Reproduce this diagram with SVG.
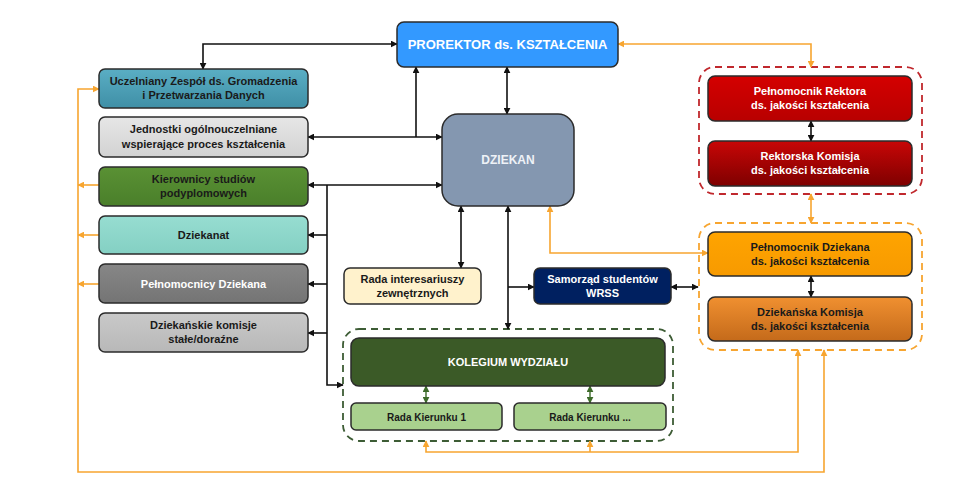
<svg xmlns="http://www.w3.org/2000/svg" width="960" height="481" viewBox="0 0 960 481">
<style>
.box{stroke:#2b2b2b;stroke-width:1.5}
.t{font-family:"Liberation Sans",Arial,sans-serif;font-weight:bold;font-size:11px;text-anchor:middle;fill:#1a1a1a}
.w{fill:#ffffff}
.blk{fill:none;stroke:#111;stroke-width:1.6;marker-start:url(#ab);marker-end:url(#ab)}
.blk1{fill:none;stroke:#111;stroke-width:1.6;marker-end:url(#ab)}
.org{fill:none;stroke:#f7a530;stroke-width:1.6;marker-start:url(#ao);marker-end:url(#ao)}
.org1{fill:none;stroke:#f7a530;stroke-width:1.6;marker-end:url(#ao)}
.org0{fill:none;stroke:#f7a530;stroke-width:1.6}
.grn{fill:none;stroke:#3d6b2a;stroke-width:1.4;marker-start:url(#ag);marker-end:url(#ag)}
.dash{fill:none;stroke-width:1.8;stroke-dasharray:7 5}
</style>
<defs>
<marker id="ab" viewBox="0 0 10 10" refX="9" refY="5" markerWidth="7" markerHeight="7" markerUnits="userSpaceOnUse" orient="auto-start-reverse"><path d="M0,0 L10,5 L0,10 z" fill="#111"/></marker>
<marker id="ao" viewBox="0 0 10 10" refX="9" refY="5" markerWidth="7" markerHeight="7" markerUnits="userSpaceOnUse" orient="auto-start-reverse"><path d="M0,0 L10,5 L0,10 z" fill="#f7a530"/></marker>
<marker id="ag" viewBox="0 0 10 10" refX="9" refY="5" markerWidth="7" markerHeight="7" markerUnits="userSpaceOnUse" orient="auto-start-reverse"><path d="M0,0 L10,5 L0,10 z" fill="#3d6b2a"/></marker>
<linearGradient id="gTeal" x1="0" y1="0" x2="0" y2="1"><stop offset="0" stop-color="#5aaec4"/><stop offset="1" stop-color="#3f8fa6"/></linearGradient>
<linearGradient id="gGray" x1="0" y1="0" x2="0" y2="1"><stop offset="0" stop-color="#e6e6e6"/><stop offset="1" stop-color="#d2d2d2"/></linearGradient>
<linearGradient id="gGreen" x1="0" y1="0" x2="0" y2="1"><stop offset="0" stop-color="#5a9134"/><stop offset="1" stop-color="#4a7f2a"/></linearGradient>
<linearGradient id="gAqua" x1="0" y1="0" x2="0" y2="1"><stop offset="0" stop-color="#97ddd1"/><stop offset="1" stop-color="#84d0c3"/></linearGradient>
<linearGradient id="gDark" x1="0" y1="0" x2="0" y2="1"><stop offset="0" stop-color="#878787"/><stop offset="1" stop-color="#747474"/></linearGradient>
<linearGradient id="gSilver" x1="0" y1="0" x2="0" y2="1"><stop offset="0" stop-color="#c9c9c9"/><stop offset="1" stop-color="#b8b8b8"/></linearGradient>
<linearGradient id="gRed1" x1="0" y1="0" x2="0" y2="1"><stop offset="0" stop-color="#d40000"/><stop offset="1" stop-color="#b80000"/></linearGradient>
<linearGradient id="gRed2" x1="0" y1="0" x2="0" y2="1"><stop offset="0" stop-color="#c80606"/><stop offset="1" stop-color="#7e0000"/></linearGradient>
<linearGradient id="gOr1" x1="0" y1="0" x2="0" y2="1"><stop offset="0" stop-color="#ffa400"/><stop offset="1" stop-color="#f79a00"/></linearGradient>
<linearGradient id="gOr2" x1="0" y1="0" x2="0" y2="1"><stop offset="0" stop-color="#f09030"/><stop offset="1" stop-color="#c46a1a"/></linearGradient>
</defs>

<g id="containers">
<rect class="dash" x="699" y="67" width="223" height="127" rx="16" stroke="#c0282d"/>
<rect class="dash" x="699" y="223" width="223" height="127" rx="16" stroke="#f7a530"/>
<rect class="dash" x="343" y="329" width="330" height="112" rx="16" stroke="#3d5c35"/>
</g>

<g id="connectors">
<path class="blk" d="M203,69 V44 H397"/>
<path class="blk" d="M308,137 H442"/>
<path class="blk1" d="M416,137 V67"/>
<path class="blk" d="M507,67 V114"/>
<path class="blk" d="M308,185 H442"/>
<path class="blk1" d="M327,185 V385 H343"/>
<path class="blk1" d="M327,235 H308"/>
<path class="blk1" d="M327,284 H308"/>
<path class="blk1" d="M327,333 H308"/>
<path class="blk" d="M461,206 V268"/>
<path class="blk" d="M508,206 V329"/>
<path class="blk1" d="M508,287 H534"/>
<path class="blk" d="M671,287 H698"/>
<path class="blk" d="M811,121 V141"/>
<path class="blk" d="M811,276 V297"/>
<path class="grn" d="M426,386 V403"/>
<path class="grn" d="M590,386 V403"/>
<path class="org" d="M618,44 H811 V67"/>
<path class="org" d="M811,194 V223"/>
<path class="org" d="M550,206 V253 H708"/>
<path class="org" d="M798,350 V452 H426 V441"/>
<path class="org1" d="M590,452 V441"/>
<path class="org" d="M824,350 V472 H78 V89 H99"/>
<path class="org1" d="M99,185 H78"/>
<path class="org1" d="M99,235 H78"/>
<path class="org1" d="M99,284 H78"/>
</g>

<g id="prorektor">
<rect class="box" x="397" y="22" width="221" height="45" rx="7" fill="#3399ff"/>
<text class="t w" x="507.5" y="49" style="font-size:13px">PROREKTOR ds. KSZTAŁCENIA</text>
</g>
<g id="dziekan">
<rect class="box" x="442" y="114" width="132" height="92" rx="16" fill="#8497b0"/>
<text class="t" x="508" y="164" style="font-size:12px;fill:#eef2f7">DZIEKAN</text>
</g>
<g id="uczelniany">
<rect class="box" x="99" y="69" width="209" height="39" rx="6" fill="url(#gTeal)"/>
<text class="t" x="203.5" y="85">Uczelniany Zespół ds. Gromadzenia</text>
<text class="t" x="203.5" y="99">i Przetwarzania Danych</text>
</g>
<g id="jednostki">
<rect class="box" x="99" y="117" width="209" height="40" rx="6" fill="url(#gGray)"/>
<text class="t" x="203.5" y="133">Jednostki ogólnouczelniane</text>
<text class="t" x="203.5" y="148">wspierające proces kształcenia</text>
</g>
<g id="kierownicy">
<rect class="box" x="99" y="167" width="209" height="39" rx="6" fill="url(#gGreen)"/>
<text class="t" x="203.5" y="183">Kierownicy studiów</text>
<text class="t" x="203.5" y="197">podyplomowych</text>
</g>
<g id="dziekanat">
<rect class="box" x="99" y="216" width="209" height="38" rx="6" fill="url(#gAqua)"/>
<text class="t" x="203.5" y="239">Dziekanat</text>
</g>
<g id="pelnomocnicy">
<rect class="box" x="99" y="264" width="209" height="39" rx="6" fill="url(#gDark)"/>
<text class="t w" x="203.5" y="288">Pełnomocnicy Dziekana</text>
</g>
<g id="komisje">
<rect class="box" x="99" y="313" width="209" height="39" rx="6" fill="url(#gSilver)"/>
<text class="t" x="203.5" y="329">Dziekańskie komisje</text>
<text class="t" x="203.5" y="343">stałe/doraźne</text>
</g>
<g id="rada-interesariuszy">
<rect class="box" x="344" y="268" width="137" height="36" rx="6" fill="#fff2cc"/>
<text class="t" x="412.5" y="283">Rada interesariuszy</text>
<text class="t" x="412.5" y="297">zewnętrznych</text>
</g>
<g id="samorzad">
<rect class="box" x="534" y="268" width="137" height="36" rx="6" fill="#002060"/>
<text class="t w" x="602.5" y="283">Samorząd studentów</text>
<text class="t w" x="602.5" y="297">WRSS</text>
</g>
<g id="kolegium">
<rect class="box" x="351" y="338" width="314" height="48" rx="8" fill="#3b5a27"/>
<text class="t w" x="508" y="366">KOLEGIUM WYDZIAŁU</text>
</g>
<g id="rada-kierunku-1">
<rect class="box" x="351" y="403" width="151" height="27" rx="5" fill="#a9d18e"/>
<text class="t" x="426.5" y="421" style="font-size:10px">Rada Kierunku 1</text>
</g>
<g id="rada-kierunku-n">
<rect class="box" x="514" y="403" width="152" height="27" rx="5" fill="#a9d18e"/>
<text class="t" x="590" y="421" style="font-size:10px">Rada Kierunku ...</text>
</g>
<g id="pelnomocnik-rektora">
<rect class="box" x="708" y="76" width="204" height="45" rx="7" fill="url(#gRed1)"/>
<text class="t w" x="810" y="95">Pełnomocnik Rektora</text>
<text class="t w" x="810" y="109">ds. jakości kształcenia</text>
</g>
<g id="rektorska-komisja">
<rect class="box" x="708" y="141" width="204" height="45" rx="7" fill="url(#gRed2)"/>
<text class="t w" x="810" y="160">Rektorska Komisja</text>
<text class="t w" x="810" y="174">ds. jakości kształcenia</text>
</g>
<g id="pelnomocnik-dziekana">
<rect class="box" x="708" y="232" width="204" height="44" rx="7" fill="url(#gOr1)"/>
<text class="t" x="810" y="251">Pełnomocnik Dziekana</text>
<text class="t" x="810" y="265">ds. jakości kształcenia</text>
</g>
<g id="dziekanska-komisja">
<rect class="box" x="708" y="297" width="204" height="44" rx="7" fill="url(#gOr2)"/>
<text class="t" x="810" y="316">Dziekańska Komisja</text>
<text class="t" x="810" y="330">ds. jakości kształcenia</text>
</g>
</svg>
